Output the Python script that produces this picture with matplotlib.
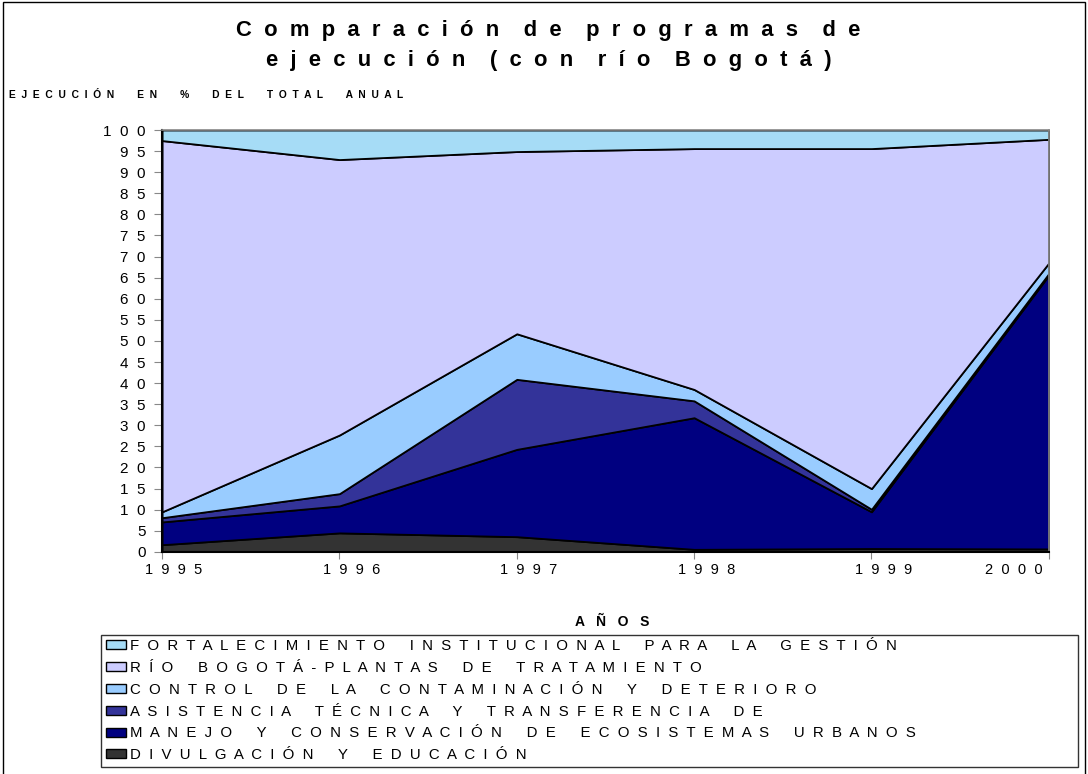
import numpy as np
import matplotlib.pyplot as plt
from matplotlib.patches import Rectangle
from matplotlib.transforms import ScaledTranslation

plt.rcParams['font.family'] = ['Liberation Sans', 'DejaVu Sans']

# --- datos (porcentaje del total anual, por programa) ---
anios = [1995, 1996, 1997, 1998, 1999, 2000]
divulgacion = [1.7, 4.5, 3.6, 0.6, 0.8, 0.7]
manejo = [5.4, 6.4, 20.7, 31.2, 8.7, 64.9]
asistencia = [1.0, 2.9, 16.6, 4.0, 0.6, 0.4]
control = [1.4, 13.9, 10.8, 2.7, 4.9, 2.5]
rio_bogota = [88.0, 65.3, 43.2, 57.1, 80.6, 29.3]
fortalecimiento = [2.5, 7.0, 5.1, 4.4, 4.4, 2.2]

series = [divulgacion, manejo, asistencia, control, rio_bogota, fortalecimiento]
nombres = [
    "DIVULGACIÓN Y EDUCACIÓN",
    "MANEJO Y CONSERVACIÓN DE ECOSISTEMAS URBANOS",
    "ASISTENCIA TÉCNICA Y TRANSFERENCIA DE",
    "CONTROL DE LA CONTAMINACIÓN Y DETERIORO",
    "RÍO BOGOTÁ-PLANTAS DE TRATAMIENTO",
    "FORTALECIMIENTO INSTITUCIONAL PARA LA GESTIÓN",
]
colores = ['#333333', '#000080', '#333399', '#99CCFF', '#CCCCFF', '#A6DCF6']
yticks = list(range(0, 101, 5))


def esp(s, n=1, m=2):
    # texto espaciado: n espacios entre letras, m espacios entre palabras
    return (' ' * m).join((' ' * n).join(p) for p in s.split(' '))


fig = plt.figure(figsize=(10.88, 7.74), dpi=100)
ax = fig.add_axes([0.149, 0.287, 0.815, 0.545])

ax.stackplot(anios, *series, colors=colores, edgecolor='black', linewidth=1.3)

ax.set_xlim(1995, 2000)
ax.set_ylim(0, 100)
ax.set_xticks(anios)
ax.set_xticklabels([esp(str(a), 2) for a in anios], fontsize=10.5)
ax.set_yticks(yticks)
ax.set_yticklabels([esp(str(v), 2) for v in yticks], fontsize=11)
ax.tick_params(axis='y', length=6, color='#888888', pad=6)
ax.tick_params(axis='x', length=5, color='#888888', pad=3)
# las etiquetas de año van algo desplazadas; la última queda metida a la izquierda
xlbls = ax.get_xticklabels()
for i, lbl in enumerate(xlbls):
    dx = -35 if i == len(xlbls) - 1 else 12
    lbl.set_transform(lbl.get_transform() + ScaledTranslation(dx / 100, 0, fig.dpi_scale_trans))

for s in ['left', 'bottom']:
    ax.spines[s].set_color('black')
    ax.spines[s].set_linewidth(1.5)
for s in ['top', 'right']:
    ax.spines[s].set_color('#888888')
    ax.spines[s].set_linewidth(1.2)

fig.text(0.504, 0.961, esp("Comparación de programas de", 2, 4), ha='center', va='center',
         fontsize=15.8, fontweight='bold')
fig.text(0.504, 0.922, esp("ejecución (con río Bogotá)", 2, 4), ha='center', va='center',
         fontsize=15.8, fontweight='bold')
fig.text(0.008, 0.877, esp("EJECUCIÓN EN % DEL TOTAL ANUAL", 2, 8), ha='left', va='center',
         fontsize=7.4, fontweight='bold')
fig.text(0.5625, 0.196, esp("AÑOS", 3), ha='center', va='center',
         fontsize=10, fontweight='bold')

# leyenda (orden inverso: arriba la capa superior)
handles = [Rectangle((0, 0), 1, 1, facecolor=c, edgecolor='black', linewidth=1.0)
           for c in colores[::-1]]
leg = fig.legend(handles, [esp(n, 2, 6) for n in nombres[::-1]], loc='upper left',
                 bbox_to_anchor=(0.093, 0.003, 0.898, 0.177), mode='expand',
                 fontsize=10.8, frameon=True, fancybox=False, edgecolor='black',
                 handlelength=1.35, handleheight=0.55, handletextpad=0.25,
                 labelspacing=0.52, borderpad=0.3, borderaxespad=0)
leg.get_frame().set_linewidth(1.0)

fig.patches.append(Rectangle((0.003, -0.01), 0.994, 1.007, transform=fig.transFigure,
                             fill=False, edgecolor='black', linewidth=1.0))

fig.savefig('out.png', dpi=100)
